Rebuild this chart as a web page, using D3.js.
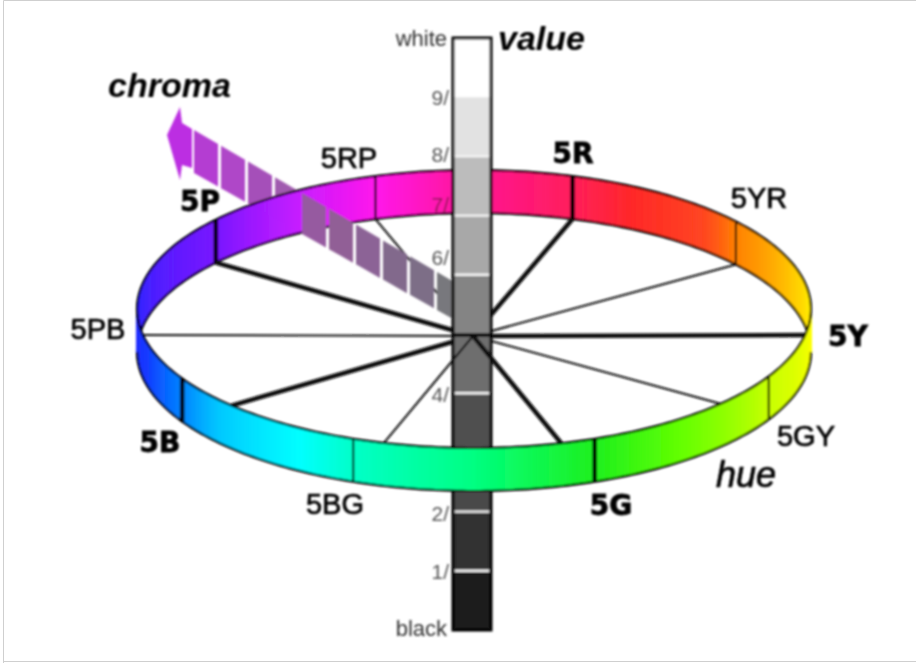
<!DOCTYPE html>
<html>
<head>
<meta charset="utf-8">
<script src="https://cdn.jsdelivr.net/npm/d3@7"></script>
<style>
  html, body { margin: 0; padding: 0; background: #fff; }
  svg { display: block; }
  text { font-family: "Liberation Sans", Arial, sans-serif; }
</style>
</head>
<body>
<div id="chart"></div>
<script>
// hues around the ring, angle in degrees
const hueNames = ["5R", "5YR", "5Y", "5GY", "5G", "5BG", "5B", "5PB", "5P", "5RP"];
const hueTickAngles = [73, 39, 0, -29, -69, -111, -150, 180, 140, 107];
const hueSpokeAngles = [73, 39, 0, -43, -75, -105.5, -136, 180, 140, 107];
const hueMajor = [true, false, true, false, true, false, true, false, true, false];

// colour of the ring along the angle
const ringStopAngles = [-180, -165, -150, -139, -121, -111, -90, -69, -52, -29, 0, 20, 39, 47, 62, 73, 93, 107, 121, 140, 180];
const ringStopColors = ["#2828ff", "#143cff", "#0082ff", "#00c8ff", "#00ffff", "#00ffc8", "#00ff82", "#1ef01e", "#64ff00", "#c8ff00", "#ffff00", "#ffc800", "#ff8200", "#ff4620", "#ff2828", "#ff1e5a", "#ff14a0", "#ff14eb", "#c81eff", "#7814ff", "#2828ff"];

// value scale on the central bar
const valueSteps = [0, 1, 2, 3, 4, 5, 6, 7, 8, 9];
const valueGreys = ["#1e1e1e", "#333333", "#484848", "#505050", "#6e6e6e", "#848484", "#a8a8a8", "#bcbcbc", "#e2e2e2", "#ffffff"];
const valueLabels = ["1/", "2/", "4/", "6/", "7/", "8/", "9/"];
const valueLabelLevels = [1, 2, 4, 6, 7, 8, 9];
const valueSeparators = [1, 2, 4, 6, 7, 8];

// chroma arrow, step 0 next to the bar
const chromaSteps = [0, 1, 2, 3, 4, 5, 6, 7, 8, 9];
const chromaColors = ["#78787d", "#7d6e87", "#82698c", "#8c6496", "#915f96", "#965aa0", "#a05aaf", "#a550b9", "#af46c8", "#b43cd2"];

const WIDTH = 916, HEIGHT = 663;
const CX = 474, CY = 335, RX = 337, RY = 139;
const RIM_TOP = 309, RIM_BOTTOM = 352;

const xRing = a => CX + RX * Math.cos(a * Math.PI / 180);
const yTop = a => RIM_TOP - RY * Math.sin(a * Math.PI / 180);
const yBottom = a => RIM_BOTTOM - RY * Math.sin(a * Math.PI / 180);

const ringColor = d3.scaleLinear().domain(ringStopAngles).range(ringStopColors);
const valueY = d3.scaleLinear().domain([0, 10]).range([630, 38]);
const chromaX = d3.scaleLinear().domain([0, 9]).range([437, 194]);

const svg = d3.select("#chart").append("svg")
  .attr("width", WIDTH)
  .attr("height", HEIGHT);

svg.append("filter").attr("id", "soft")
  .attr("filterUnits", "userSpaceOnUse")
  .attr("x", 0).attr("y", 0).attr("width", WIDTH).attr("height", HEIGHT)
  .append("feGaussianBlur").attr("stdDeviation", 0.85);

// frame of the original image
svg.append("rect").attr("width", WIDTH).attr("height", HEIGHT).attr("fill", "#fff");
svg.append("path")
  .attr("d", `M3.5,663 V0.5 H916 M3,661.5 H916`)
  .attr("fill", "none")
  .attr("stroke", "#cfcfcf");

const root = svg.append("g").attr("filter", "url(#soft)");

function drawChromaCells(steps) {
  root.append("g").selectAll("path")
    .data(steps)
    .join("path")
    .attr("d", s => {
      let x0 = chromaX(s), x1 = x0 + 24;
      let top = x => 130 + 0.584 * (x - 194);
      let bot = x => 173 + 0.564 * (x - 194);
      return `M${x0},${top(x0)} L${x1},${top(x1)} L${x1},${bot(x1)} L${x0},${bot(x0)} Z`;
    })
    .attr("fill", s => chromaColors[s]);
}

function drawRing(fromAngle, toAngle) {
  let angles = d3.range(fromAngle, toAngle, 0.5);
  root.append("g").selectAll("path")
    .data(angles)
    .join("path")
    .attr("d", a => {
      let b = a + 0.5;
      return `M${xRing(a)},${yTop(a)} L${xRing(b)},${yTop(b)} L${xRing(b)},${yBottom(b)} L${xRing(a)},${yBottom(a)} Z`;
    })
    .attr("fill", a => ringColor(a + 0.25))
    .attr("stroke", a => ringColor(a + 0.25))
    .attr("stroke-width", 1);

  let edge = yFn => d3.line().x(a => xRing(a)).y(a => yFn(a))(d3.range(fromAngle, toAngle + 1, 1));
  root.append("path").attr("d", edge(yTop)).attr("fill", "none").attr("stroke", "#000").attr("stroke-width", 2.2);
  root.append("path").attr("d", edge(yBottom)).attr("fill", "none").attr("stroke", "#000").attr("stroke-width", 2.2);
}

function drawTicks(filter) {
  let rows = hueNames.map((n, i) => i).filter(i => filter(hueTickAngles[i]));
  root.append("g").selectAll("line")
    .data(rows)
    .join("line")
    .attr("x1", i => xRing(hueTickAngles[i]))
    .attr("x2", i => xRing(hueTickAngles[i]))
    .attr("y1", i => yTop(hueTickAngles[i]))
    .attr("y2", i => yBottom(hueTickAngles[i]))
    .attr("stroke", "#000")
    .attr("stroke-width", i => hueMajor[i] ? 4.5 : 2);
}

function spokeEndY(a) {
  if (a === 0 || a === 180) return CY;
  return a > 0 ? yBottom(a) : yTop(a);
}

function drawSpokes(filter) {
  let rows = hueNames.map((n, i) => i).filter(i => filter(hueSpokeAngles[i]));
  root.append("g").selectAll("line")
    .data(rows)
    .join("line")
    .attr("x1", CX - 1)
    .attr("y1", CY + 1)
    .attr("x2", i => xRing(hueSpokeAngles[i]))
    .attr("y2", i => spokeEndY(hueSpokeAngles[i]))
    .attr("stroke", "#111")
    .attr("stroke-width", i => hueMajor[i] ? 4.5 : 2);
}

const isFrontSpoke = a => a < 0 && Math.abs(Math.cos(a * Math.PI / 180)) < 0.5;

// layers from back to front
drawChromaCells(chromaSteps.filter(s => s >= 6));

// arrow head
let hx = chromaX(9);
root.append("path")
  .attr("d", `M${hx - 27},135 L${hx - 14},107 L${hx - 12},123 L${hx - 2},129 L${hx - 2},168 L${hx - 12},165 L${hx - 14},180 Z`)
  .attr("fill", "#bc2ee2");

drawRing(0, 180);
drawTicks(a => a > 0 && a < 180);
drawSpokes(a => !isFrontSpoke(a));
drawChromaCells(chromaSteps.filter(s => s < 6));

// the value bar
const barX = 453, barW = 38;
root.append("g").selectAll("rect")
  .data(valueSteps)
  .join("rect")
  .attr("x", barX)
  .attr("width", barW)
  .attr("y", v => valueY(v + 1))
  .attr("height", v => valueY(v) - valueY(v + 1))
  .attr("fill", v => valueGreys[v]);
root.append("g").selectAll("line")
  .data(valueSeparators)
  .join("line")
  .attr("x1", barX + 2)
  .attr("x2", barX + barW - 2)
  .attr("y1", v => valueY(v))
  .attr("y2", v => valueY(v))
  .attr("stroke", "#f4f4f4")
  .attr("stroke-width", 2.4);
root.append("rect")
  .attr("x", barX)
  .attr("y", valueY(10))
  .attr("width", barW)
  .attr("height", valueY(0) - valueY(10))
  .attr("fill", "none")
  .attr("stroke", "#000")
  .attr("stroke-width", 3);
root.append("line")
  .attr("x1", barX).attr("x2", barX + barW)
  .attr("y1", CY).attr("y2", CY)
  .attr("stroke", "#000").attr("stroke-width", 3.5);

drawSpokes(isFrontSpoke);
drawRing(-180, 0);
drawTicks(a => a < 0 && a > -180);

// text on the value bar, some labels sit off their level in the original
const valueLabelNudge = { 9: 0, 8: -2, 7: -11, 6: -17, 4: 1, 2: 2, 1: 1 };
root.append("g").selectAll("text")
  .data(valueLabelLevels)
  .join("text")
  .attr("x", 449)
  .attr("y", v => valueY(v) + valueLabelNudge[v])
  .attr("dy", "0.35em")
  .attr("text-anchor", "end")
  .attr("font-size", 21)
  .attr("fill", v => v === 7 ? "#8a1a50" : "#555")
  .text((v, i) => valueLabels[i]);

root.append("text").attr("x", 447).attr("y", 38).attr("dy", "0.35em")
  .attr("text-anchor", "end").attr("font-size", 22).attr("fill", "#333").text("white");
root.append("text").attr("x", 447).attr("y", 628).attr("dy", "0.35em")
  .attr("text-anchor", "end").attr("font-size", 22).attr("fill", "#333").text("black");

// hue labels
const hueLabelX = { "5R": 573, "5YR": 759, "5Y": 848, "5GY": 806, "5G": 611, "5BG": 335, "5B": 160, "5PB": 98, "5P": 200, "5RP": 349 };
const hueLabelY = { "5R": 153, "5YR": 198, "5Y": 336, "5GY": 436, "5G": 505, "5BG": 504, "5B": 442, "5PB": 329, "5P": 201, "5RP": 158 };
root.append("g").selectAll("text")
  .data(hueNames)
  .join("text")
  .attr("x", d => hueLabelX[d])
  .attr("y", d => hueLabelY[d])
  .attr("dy", "0.36em")
  .attr("text-anchor", "middle")
  .attr("fill", "#000")
  .attr("stroke", "#000")
  .attr("stroke-width", (d, i) => hueMajor[i] ? 0.8 : 0.7)
  .style("font-family", (d, i) => hueMajor[i] ? '"DejaVu Sans", sans-serif' : null)
  .attr("font-weight", (d, i) => hueMajor[i] ? "bold" : "normal")
  .attr("font-size", (d, i) => hueMajor[i] ? 28 : 29)
  .text(d => d);

// axis titles
root.append("text").attr("x", 498).attr("y", 50)
  .attr("font-size", 34).attr("font-weight", "bold").attr("font-style", "italic").attr("fill", "#000").text("value");
root.append("text").attr("x", 108).attr("y", 97)
  .attr("font-size", 34).attr("font-weight", "bold").attr("font-style", "italic").attr("fill", "#000").text("chroma");
root.append("text").attr("x", 716).attr("y", 487)
  .attr("font-size", 36).attr("font-style", "italic").attr("fill", "#000")
  .attr("stroke", "#000").attr("stroke-width", 0.7).text("hue");
</script>
</body>
</html>
